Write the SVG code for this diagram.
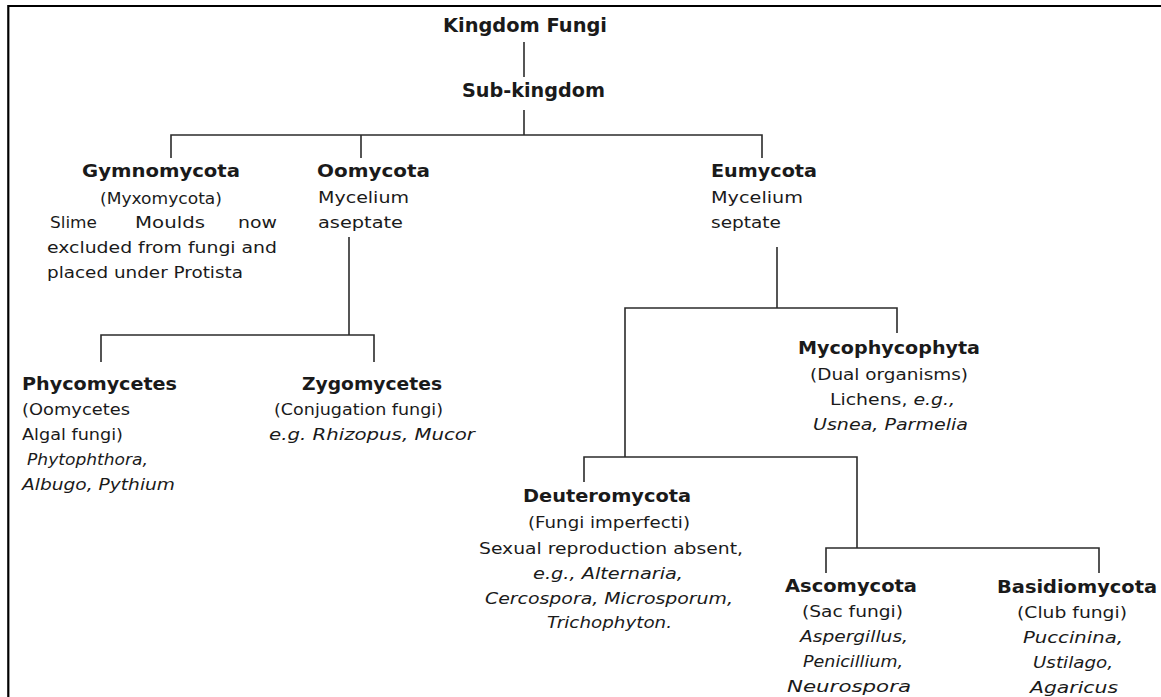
<svg xmlns="http://www.w3.org/2000/svg" width="1161" height="697" viewBox="0 0 1161 697">
<style>
text{font-family:"DejaVu Sans","Liberation Sans",sans-serif;fill:#1a1a1a;font-size:16.5px}
.t{font-weight:bold;font-size:19px}
.h{font-weight:bold;font-size:17.5px}
.i{font-style:italic}
.c{fill:none;stroke:#2b2b2b;stroke-width:1.6}
</style>
<rect width="1161" height="697" fill="#fff"/>
<path d="M8.3,697 V6 H1161" fill="none" stroke="#000" stroke-width="2.2"/>
<g id="connectors" class="c">
<path d="M524,42 V77"/>
<path d="M524,110 V135"/>
<path d="M171,158 V135 H762 V158"/>
<path d="M361,135 V158"/>
<path d="M349,237 V335"/>
<path d="M101,362 V335 H374 V362"/>
<path d="M777,247 V308"/>
<path d="M625,457 V308 H897 V333"/>
<path d="M584,482 V457 H857 V548"/>
<path d="M826,573 V548 H1099 V573"/>
</g>
<g id="kingdom"><text class="t" x="443" y="32" textLength="164" lengthAdjust="spacingAndGlyphs">Kingdom Fungi</text></g>
<g id="subkingdom"><text class="t" x="462" y="97" textLength="143" lengthAdjust="spacingAndGlyphs">Sub-kingdom</text></g>
<g id="gymnomycota">
<text class="h" x="82" y="177" textLength="158" lengthAdjust="spacingAndGlyphs">Gymnomycota</text>
<text x="100" y="204" textLength="122" lengthAdjust="spacingAndGlyphs">(Myxomycota)</text>
<text x="50" y="228" textLength="47" lengthAdjust="spacingAndGlyphs">Slime</text>
<text x="135" y="228" textLength="70" lengthAdjust="spacingAndGlyphs">Moulds</text>
<text x="238" y="228" textLength="39" lengthAdjust="spacingAndGlyphs">now</text>
<text x="47" y="253" textLength="230" lengthAdjust="spacingAndGlyphs">excluded from fungi and</text>
<text x="47" y="278" textLength="196" lengthAdjust="spacingAndGlyphs">placed under Protista</text>
</g>
<g id="oomycota">
<text class="h" x="317" y="177" textLength="113" lengthAdjust="spacingAndGlyphs">Oomycota</text>
<text x="318" y="203" textLength="91" lengthAdjust="spacingAndGlyphs">Mycelium</text>
<text x="318" y="228" textLength="85" lengthAdjust="spacingAndGlyphs">aseptate</text>
</g>
<g id="eumycota">
<text class="h" x="711" y="177" textLength="106" lengthAdjust="spacingAndGlyphs">Eumycota</text>
<text x="711" y="203" textLength="92" lengthAdjust="spacingAndGlyphs">Mycelium</text>
<text x="711" y="228" textLength="70" lengthAdjust="spacingAndGlyphs">septate</text>
</g>
<g id="phycomycetes">
<text class="h" x="22" y="390" textLength="155" lengthAdjust="spacingAndGlyphs">Phycomycetes</text>
<text x="22" y="415" textLength="108" lengthAdjust="spacingAndGlyphs">(Oomycetes</text>
<text x="22" y="440" textLength="101" lengthAdjust="spacingAndGlyphs">Algal fungi)</text>
<text class="i" x="27" y="465" textLength="121" lengthAdjust="spacingAndGlyphs">Phytophthora,</text>
<text class="i" x="22" y="490" textLength="153" lengthAdjust="spacingAndGlyphs">Albugo, Pythium</text>
</g>
<g id="zygomycetes">
<text class="h" x="302" y="390" textLength="140" lengthAdjust="spacingAndGlyphs">Zygomycetes</text>
<text x="274" y="415" textLength="169" lengthAdjust="spacingAndGlyphs">(Conjugation fungi)</text>
<text class="i" x="269" y="440" textLength="206" lengthAdjust="spacingAndGlyphs">e.g. Rhizopus, Mucor</text>
</g>
<g id="mycophycophyta">
<text class="h" x="798" y="354" textLength="182" lengthAdjust="spacingAndGlyphs">Mycophycophyta</text>
<text x="810" y="380" textLength="158" lengthAdjust="spacingAndGlyphs">(Dual organisms)</text>
<text x="830" y="405" textLength="125" lengthAdjust="spacingAndGlyphs"><tspan>Lichens, </tspan><tspan class="i">e.g.,</tspan></text>
<text class="i" x="813" y="430" textLength="155" lengthAdjust="spacingAndGlyphs">Usnea, Parmelia</text>
</g>
<g id="deuteromycota">
<text class="h" x="523" y="502" textLength="168" lengthAdjust="spacingAndGlyphs">Deuteromycota</text>
<text x="528" y="528" textLength="162" lengthAdjust="spacingAndGlyphs">(Fungi imperfecti)</text>
<text x="479" y="554" textLength="264" lengthAdjust="spacingAndGlyphs">Sexual reproduction absent,</text>
<text class="i" x="533" y="579" textLength="150" lengthAdjust="spacingAndGlyphs">e.g., Alternaria,</text>
<text class="i" x="485" y="604" textLength="248" lengthAdjust="spacingAndGlyphs">Cercospora, Microsporum,</text>
<text class="i" x="547" y="628" textLength="125" lengthAdjust="spacingAndGlyphs">Trichophyton.</text>
</g>
<g id="ascomycota">
<text class="h" x="785" y="592" textLength="132" lengthAdjust="spacingAndGlyphs">Ascomycota</text>
<text x="802" y="617" textLength="101" lengthAdjust="spacingAndGlyphs">(Sac fungi)</text>
<text class="i" x="800" y="642" textLength="108" lengthAdjust="spacingAndGlyphs">Aspergillus,</text>
<text class="i" x="803" y="667" textLength="100" lengthAdjust="spacingAndGlyphs">Penicillium,</text>
<text class="i" x="787" y="692" textLength="124" lengthAdjust="spacingAndGlyphs">Neurospora</text>
</g>
<g id="basidiomycota">
<text class="h" x="997" y="593" textLength="160" lengthAdjust="spacingAndGlyphs">Basidiomycota</text>
<text x="1017" y="618" textLength="110" lengthAdjust="spacingAndGlyphs">(Club fungi)</text>
<text class="i" x="1023" y="643" textLength="100" lengthAdjust="spacingAndGlyphs">Puccinina,</text>
<text class="i" x="1033" y="668" textLength="80" lengthAdjust="spacingAndGlyphs">Ustilago,</text>
<text class="i" x="1030" y="693" textLength="88" lengthAdjust="spacingAndGlyphs">Agaricus</text>
</g>
</svg>
